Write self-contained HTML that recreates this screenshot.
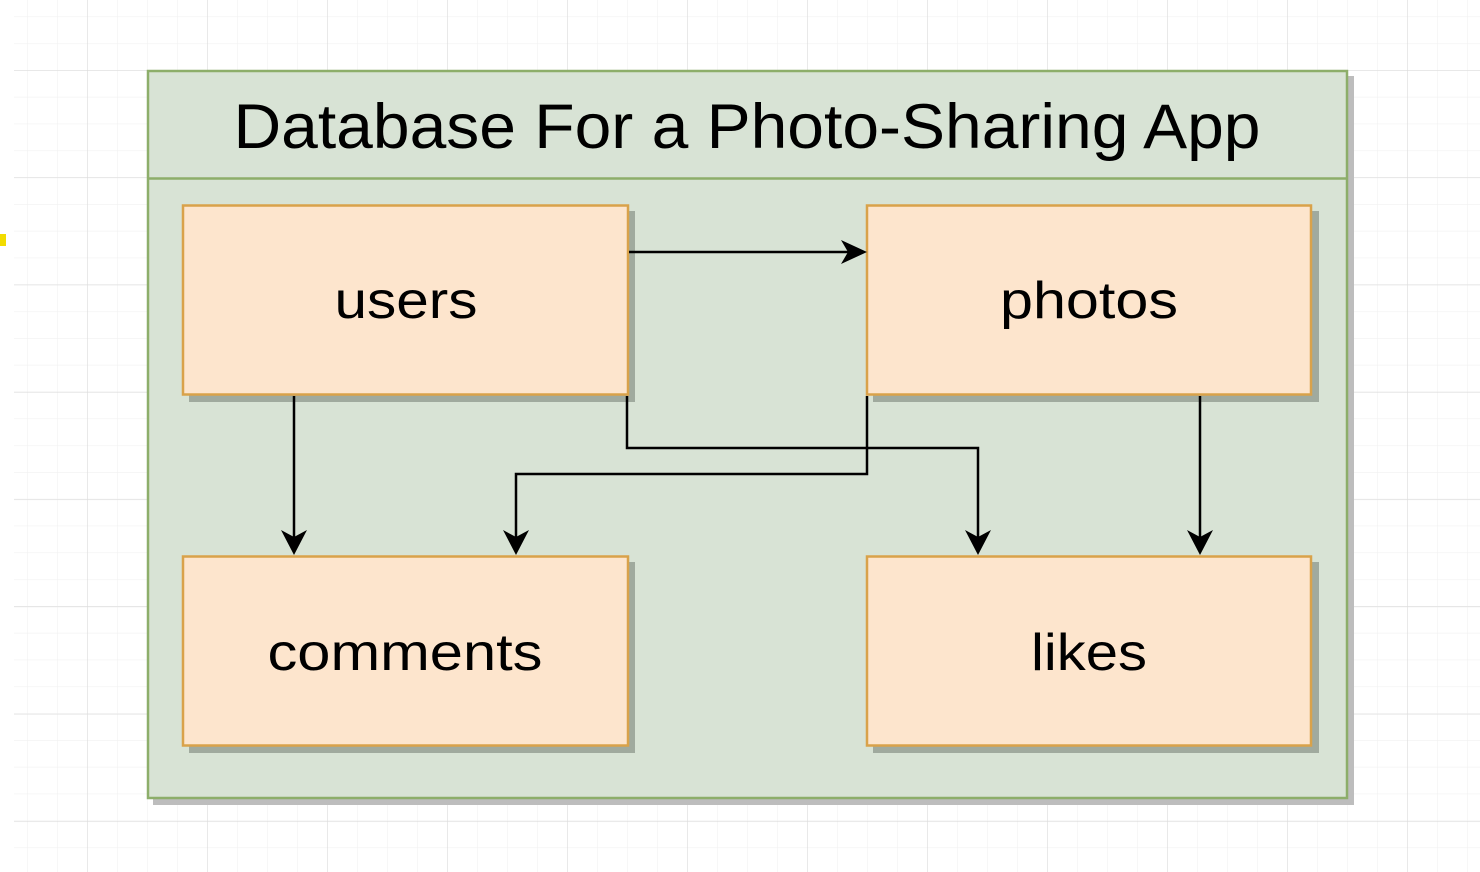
<!DOCTYPE html>
<html><head><meta charset="utf-8"><style>html,body{margin:0;padding:0;background:#fff}svg{display:block}</style></head>
<body>
<svg width="1480" height="872" viewBox="0 0 1480 872" xmlns="http://www.w3.org/2000/svg" font-family="'Liberation Sans', sans-serif">
<defs>
<pattern id="minor" x="27" y="70" width="30" height="26.8" patternUnits="userSpaceOnUse">
<path d="M0 0V26.8M0 0H30" stroke="#f1f1f1" stroke-width="1.2" fill="none"/>
</pattern>
<pattern id="major" x="87" y="70" width="120" height="107.3" patternUnits="userSpaceOnUse">
<path d="M0 0V107.3M0 0H120" stroke="#dcdcdc" stroke-width="1.2" fill="none"/>
</pattern>
</defs>
<rect x="14" y="0" width="1466" height="872" fill="url(#minor)"/>
<rect x="14" y="0" width="1466" height="872" fill="url(#major)"/>
<rect x="0" y="234" width="6" height="12" fill="#f2dc00"/>
<!-- container -->
<rect x="153" y="76" width="1201" height="729" fill="#bdbdbd"/>
<rect x="148" y="71" width="1199" height="727" fill="#d8e3d5" stroke="#8dae6a" stroke-width="2.5"/>
<line x1="148" y1="178.5" x2="1347" y2="178.5" stroke="#8dae6a" stroke-width="2.5"/>
<text x="747" y="148" font-size="63" text-anchor="middle" textLength="1027" lengthAdjust="spacingAndGlyphs" fill="#000">Database For a Photo-Sharing App</text>
<!-- box shadows -->
<g fill="#a0aa9e">
<rect x="189" y="211" width="446" height="191"/>
<rect x="873" y="211" width="446" height="191"/>
<rect x="189" y="562" width="446" height="191"/>
<rect x="873" y="562" width="446" height="191"/>
</g>
<g fill="#fde5cd" stroke="#d9a24a" stroke-width="2.5">
<rect x="183" y="205.5" width="445" height="189"/>
<rect x="867" y="205.5" width="444" height="189"/>
<rect x="183" y="556.5" width="445" height="189"/>
<rect x="867" y="556.5" width="444" height="189"/>
</g>
<g font-size="52" text-anchor="middle" fill="#000">
<text x="406" y="318" textLength="143" lengthAdjust="spacingAndGlyphs">users</text>
<text x="1089" y="318" textLength="178" lengthAdjust="spacingAndGlyphs">photos</text>
<text x="405" y="670" textLength="275" lengthAdjust="spacingAndGlyphs">comments</text>
<text x="1089" y="670" textLength="116" lengthAdjust="spacingAndGlyphs">likes</text>
</g>
<!-- connectors -->
<g stroke="#000" stroke-width="2.5" fill="none">
<path d="M629 252H850"/>
<path d="M294 396V540"/>
<path d="M627 396V448H978V540"/>
<path d="M867 396V474H516V540"/>
<path d="M1200 396V540"/>
</g>
<g fill="#000">
<path d="M867 252L841 240L848 252L841 264Z"/>
<path d="M294 555L281 530L294 537L307 530Z"/>
<path d="M516 555L503 530L516 537L529 530Z"/>
<path d="M978 555L965 530L978 537L991 530Z"/>
<path d="M1200 555L1187 530L1200 537L1213 530Z"/>
</g>
</svg>
</body></html>
